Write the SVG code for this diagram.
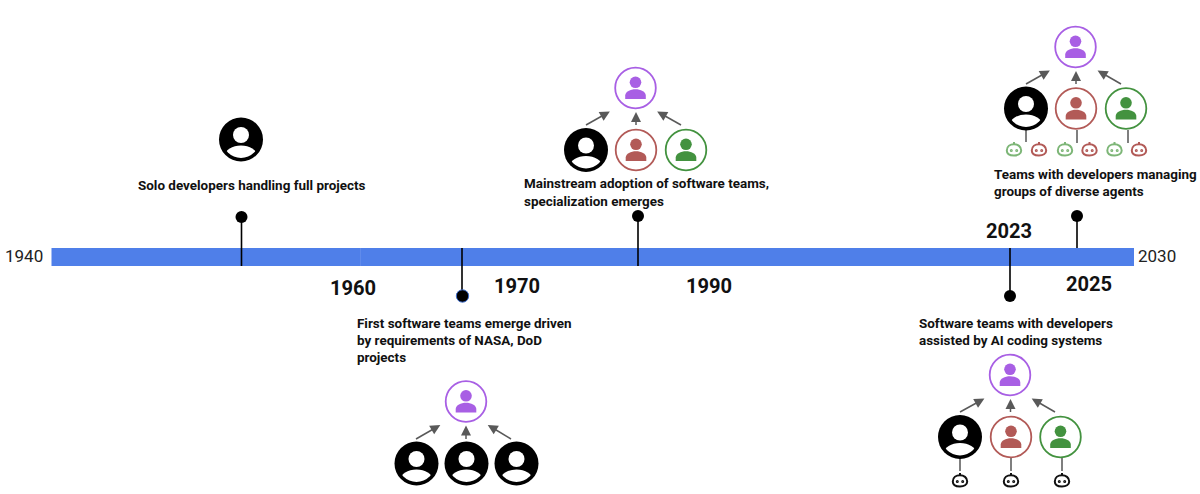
<svg xmlns="http://www.w3.org/2000/svg" width="1200" height="494" viewBox="0 0 1200 494">
<style>
text{font-family:Roboto,"Liberation Sans",sans-serif;fill:#111}
.cap{font-size:13.45px;font-weight:700}
.yr{font-size:20.100px;font-weight:700}
.end{font-size:17px;font-weight:400;fill:#222}
.stem{stroke:#000;stroke-width:1.6;fill:none}
.arr{stroke:#595959;stroke-width:1.5;fill:none;marker-end:url(#ah)}
.lnk{stroke:#555;stroke-width:1.5;fill:none}
</style>
<defs>
<marker id="ah" viewBox="0 0 10 10" refX="5" refY="5" markerWidth="12" markerHeight="10" markerUnits="userSpaceOnUse" orient="auto" overflow="visible"><path d="M0 0L10 5L0 10Z" fill="#595959"/></marker>
<clipPath id="cc"><circle cx="0" cy="0" r="18.500"/></clipPath>
<g id="blk"><circle r="22" fill="#000"/><circle cy="-4.500" r="8" fill="#fff"/><ellipse cy="16" rx="16" ry="10" fill="#fff" clip-path="url(#cc)"/></g>
<path id="bust" d="M-10.300 11V7.500C-10.300 3.500 -5 1.200 0 1.200S10.300 3.500 10.300 7.500V11Z"/>
<g id="pur"><circle r="20.300" fill="#fff" stroke="#a85fe4" stroke-width="1.800"/><circle cy="-5.700" r="5.800" fill="#a85fe4"/><use href="#bust" fill="#a85fe4"/></g>
<g id="red"><circle r="20.300" fill="#fff" stroke="#b25a57" stroke-width="1.800"/><circle cy="-5.700" r="5.800" fill="#b25a57"/><use href="#bust" fill="#b25a57"/></g>
<g id="grn"><circle r="20.300" fill="#fff" stroke="#43923f" stroke-width="1.800"/><circle cy="-5.700" r="5.800" fill="#43923f"/><use href="#bust" fill="#43923f"/></g>
<g id="bot" fill="none" stroke-width="2"><path d="M0 -6V-8"/><path d="M-7.200 0.500C-7.200 -3.500 -3.800 -5.800 0 -5.800S7.200 -3.500 7.200 0.500C7.200 3.800 4 5.500 0 5.500S-7.200 3.800 -7.200 0.500Z"/><circle cx="-2.700" cy="0.500" r="0.900" stroke-width="1.200"/><circle cx="2.700" cy="0.500" r="0.900" stroke-width="1.200"/></g>
</defs>

<g id="timeline">
<rect x="51.500" y="248" width="1082.500" height="18" fill="#4f7fe9"/>
<path d="M360.500 248V266" stroke="#6b93ec" stroke-width="0.600"/>
</g>

<g id="connectors">
<path class="stem" d="M241.500 217V266M462 248V296M638 216V266M1010 248V296M1077 216V248"/>
<circle cx="241.500" cy="217" r="6" fill="#000"/>
<circle cx="462.500" cy="296" r="6.200" fill="#000" stroke="#3f6fd0" stroke-width="1"/>
<circle cx="638" cy="216" r="6" fill="#000"/>
<circle cx="1010" cy="296" r="6" fill="#000"/>
<circle cx="1077" cy="216" r="6" fill="#000"/>
<path class="arr" d="M416 439L436 427.500"/><path class="arr" d="M466 439V430.500"/><path class="arr" d="M511 439L492 427.500"/>
<path class="arr" d="M586 125L605.500 114"/><path class="arr" d="M636 125V117"/><path class="arr" d="M681 125L661.500 114"/>
<path class="arr" d="M960 412L980 401"/><path class="arr" d="M1010.500 412V404"/><path class="arr" d="M1055 412L1036 401"/>
<path class="arr" d="M1026 84L1045.500 73"/><path class="arr" d="M1076 84V76"/><path class="arr" d="M1121 84L1101.900 73"/>
<path class="lnk" d="M1026 130V142M1077 130V143M1128 130V143"/>
<path class="lnk" d="M960 458V471M1011 458V471M1062 458V471"/>
</g>

<g id="year-labels">
<text class="end" x="5" y="262">1940</text>
<text class="end" x="1138" y="262">2030</text>
<text class="yr" x="330" y="295">1960</text>
<text class="yr" x="494" y="293">1970</text>
<text class="yr" x="686" y="293">1990</text>
<text class="yr" x="986" y="238">2023</text>
<text class="yr" x="1066" y="291">2025</text>
</g>

<g id="node-solo">
<use href="#blk" x="241" y="139.500"/>
<text class="cap" x="138" y="190">Solo developers handling full projects</text>
</g>

<g id="node-first-teams">
<text class="cap" x="357" y="328">First software teams emerge driven</text>
<text class="cap" x="357" y="345">by requirements of NASA, DoD</text>
<text class="cap" x="357" y="362">projects</text>
<use href="#pur" x="466" y="401.500"/>
<use href="#blk" x="416.500" y="463.500"/><use href="#blk" x="466.500" y="463.500"/><use href="#blk" x="516.500" y="463.500"/>
</g>

<g id="node-mainstream">
<use href="#pur" x="635.500" y="88"/>
<use href="#blk" x="586" y="150"/><use href="#red" x="636" y="150"/><use href="#grn" x="686" y="150"/>
<text class="cap" x="524" y="188">Mainstream adoption of software teams,</text>
<text class="cap" x="524" y="206">specialization emerges</text>
</g>

<g id="node-assisted">
<text class="cap" x="919" y="328">Software teams with developers</text>
<text class="cap" x="919" y="345">assisted by AI coding systems</text>
<use href="#pur" x="1010" y="375"/>
<use href="#blk" x="960" y="437"/><use href="#red" x="1011" y="437"/><use href="#grn" x="1060.500" y="437"/>
<use href="#bot" x="960" y="481" stroke="#111"/><use href="#bot" x="1011" y="481" stroke="#111"/><use href="#bot" x="1062" y="481" stroke="#111"/>
</g>

<g id="node-agents">
<use href="#pur" x="1075.500" y="47"/>
<use href="#blk" x="1026" y="108.500"/><use href="#red" x="1076" y="108.500"/><use href="#grn" x="1126" y="108.500"/>
<use href="#bot" x="1014" y="150" stroke="#7db677"/><use href="#bot" x="1039" y="150" stroke="#b25a57"/><use href="#bot" x="1065" y="150" stroke="#7db677"/><use href="#bot" x="1089.500" y="150" stroke="#b25a57"/><use href="#bot" x="1114.500" y="150" stroke="#7db677"/><use href="#bot" x="1139" y="150" stroke="#b25a57"/>
<text class="cap" x="994" y="179">Teams with developers managing</text>
<text class="cap" x="994" y="196">groups of diverse agents</text>
</g>
</svg>
